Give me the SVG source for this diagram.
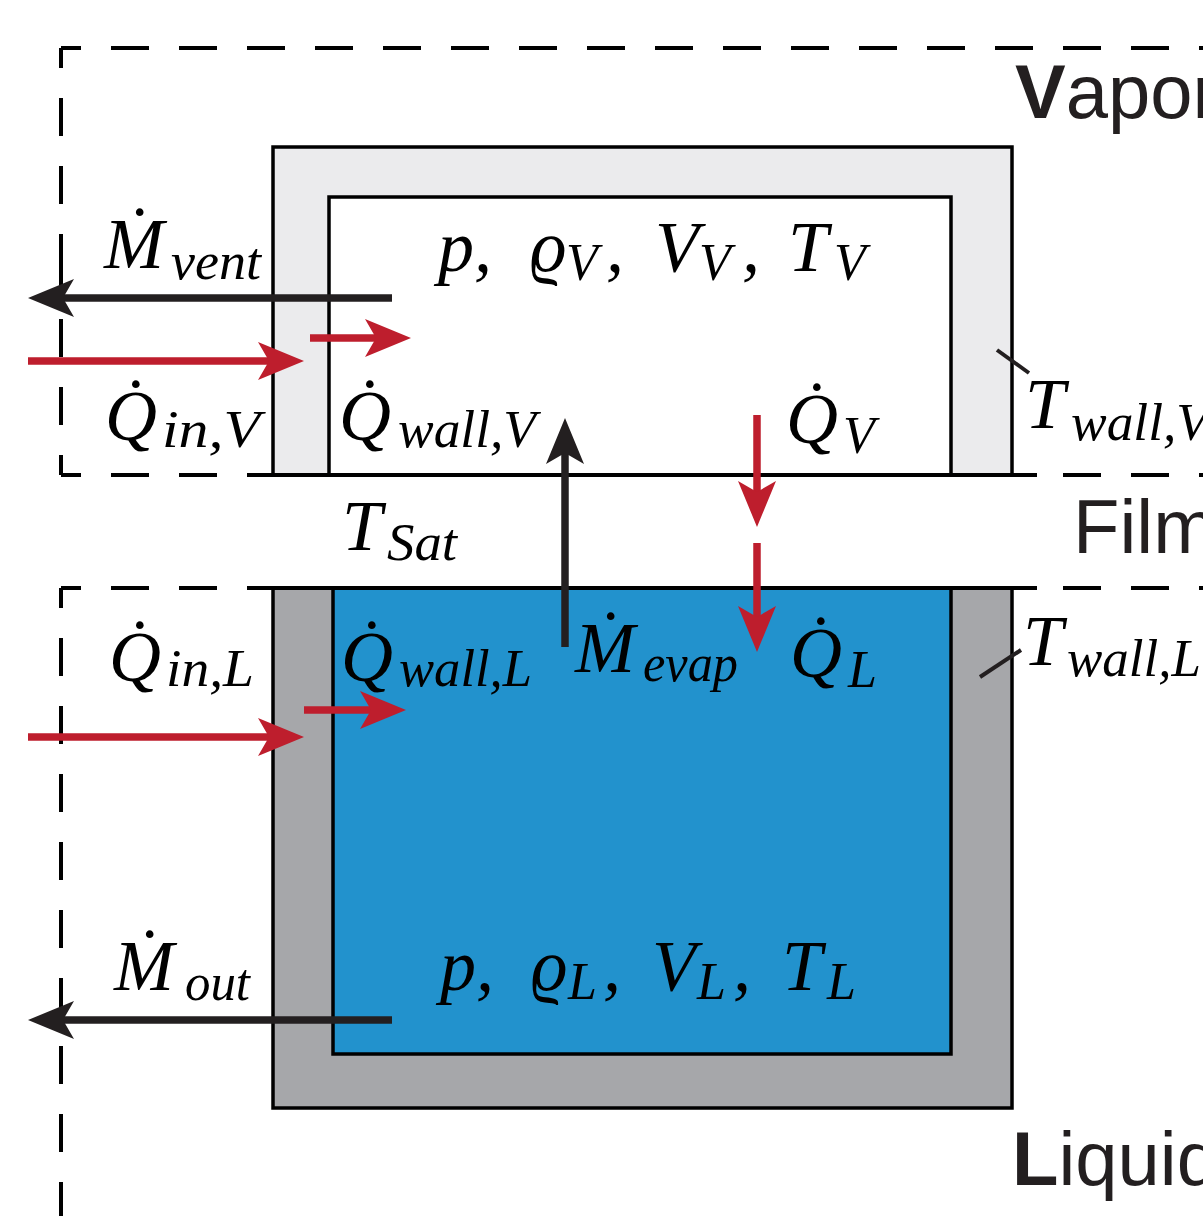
<svg xmlns="http://www.w3.org/2000/svg" width="1203" height="1216" viewBox="0 0 1203 1216">
<style>
.dash{fill:none;stroke:#000;stroke-width:4;stroke-dasharray:38 30;stroke-dashoffset:18}
.solid{fill:none;stroke:#000;stroke-width:4}
.wall{stroke:#000;stroke-width:3.5}
.m{font-family:"Liberation Serif","DejaVu Serif",serif;font-style:italic;font-size:72px;fill:#000}
.s{font-size:52px}
.sans{font-family:"Liberation Sans",Arial,sans-serif;font-size:76px;fill:#231f20}
.b{font-weight:bold}
.blk{fill:none;stroke:#231f20;stroke-width:7.5;marker-end:url(#hb)}
.red{fill:none;stroke:#be1e2d;stroke-width:7.5;marker-end:url(#hr)}
.lead{stroke:#231f20;stroke-width:4}
</style>
<defs>
<marker id="hb" markerUnits="userSpaceOnUse" viewBox="0 -20 47 40" markerWidth="47" markerHeight="40" refX="11" refY="0" orient="auto"><path d="M46,0 L0,-19 L11,0 L0,19 Z" fill="#231f20"/></marker>
<marker id="hr" markerUnits="userSpaceOnUse" viewBox="0 -20 47 40" markerWidth="47" markerHeight="40" refX="11" refY="0" orient="auto"><path d="M46,0 L0,-19 L11,0 L0,19 Z" fill="#be1e2d"/></marker>
</defs>
<rect width="1203" height="1216" fill="#fff"/>

<g id="vapor-region">
<path class="dash" d="M61,48 H1203"/>
<path class="dash" d="M61,48 V262"/>
<path class="dash" d="M61,475 V262"/>
<path class="dash" d="M61,475 H1203"/>
<text class="sans" x="1015" y="118"><tspan class="b">V</tspan>apor</text>
</g>

<g id="liquid-region">
<path class="dash" d="M61,588 H1203"/>
<path class="dash" d="M61,588 V1216"/>
<text class="sans" x="1012" y="1185"><tspan class="b">L</tspan>iquid</text>
</g>

<g id="vapor-tank">
<rect class="wall" x="273" y="147" width="739" height="328" fill="#ebebed"/>
<rect class="wall" x="329" y="197" width="622" height="278" fill="#fff"/>
</g>

<g id="liquid-tank">
<rect class="wall" x="273" y="588" width="739" height="520" fill="#a6a7aa"/>
<rect class="wall" x="333" y="588" width="618" height="466" fill="#2292cd"/>
</g>

<g id="film-region">
<path class="solid" d="M247,475 H1037"/>
<path class="solid" d="M247,588 H1037"/>
<text class="sans" x="1073" y="553">Film</text>
</g>

<g id="connectors">
<path class="blk" d="M392,298 H63"/>
<path class="blk" d="M392,1020 H63"/>
<path class="red" d="M28,361 H269"/>
<path class="red" d="M310,338 H376"/>
<path class="red" d="M28,737 H269"/>
<path class="red" d="M304,710 H371"/>
<path class="blk" d="M565,647 V453"/>
<path class="red" d="M757,415 V492"/>
<path class="red" d="M757,543 V617"/>
<path class="lead" d="M997,350 L1029,373"/>
<path class="lead" d="M980,677 L1021,650"/>
</g>

<g id="labels">
<text class="m" x="104" y="268">Ṁ<tspan class="s" x="171" y="279" textLength="90" lengthAdjust="spacingAndGlyphs">vent</tspan></text>
<text class="m" x="105" y="440">Q̇<tspan class="s" x="162" y="447" textLength="98" lengthAdjust="spacingAndGlyphs">in,V</tspan></text>
<text class="m" x="339" y="440">Q̇<tspan class="s" x="398" y="447" textLength="138" lengthAdjust="spacingAndGlyphs">wall,V</tspan></text>
<text class="m" x="438" y="271">p,<tspan x="530">ϱ</tspan><tspan class="s" x="566" y="280">V</tspan><tspan x="606" y="271">,</tspan><tspan x="655">V</tspan><tspan class="s" x="699" y="280">V</tspan><tspan x="742" y="271">,</tspan><tspan x="788">T</tspan><tspan class="s" x="834" y="280">V</tspan></text>
<text class="m" x="786" y="443">Q̇<tspan class="s" x="843" y="453">V</tspan></text>
<text class="m" x="1025" y="428">T<tspan class="s" x="1071" y="440" textLength="138" lengthAdjust="spacingAndGlyphs">wall,V</tspan></text>
<text class="m" x="342" y="550">T<tspan class="s" x="387" y="560" textLength="70" lengthAdjust="spacingAndGlyphs">Sat</tspan></text>
<text class="m" x="109" y="681">Q̇<tspan class="s" x="166" y="686" textLength="88" lengthAdjust="spacingAndGlyphs">in,L</tspan></text>
<text class="m" x="341" y="681">Q̇<tspan class="s" x="399" y="686" textLength="133" lengthAdjust="spacingAndGlyphs">wall,L</tspan></text>
<text class="m" x="575" y="672">Ṁ<tspan class="s" x="643" y="681" textLength="95" lengthAdjust="spacingAndGlyphs">evap</tspan></text>
<text class="m" x="790" y="677">Q̇<tspan class="s" x="848" y="687">L</tspan></text>
<text class="m" x="1023" y="665">T<tspan class="s" x="1067" y="676" textLength="134" lengthAdjust="spacingAndGlyphs">wall,L</tspan></text>
<text class="m" x="114" y="990">Ṁ<tspan class="s" x="185" y="1000" textLength="65" lengthAdjust="spacingAndGlyphs">out</tspan></text>
<text class="m" x="440" y="990">p,<tspan x="531">ϱ</tspan><tspan class="s" x="568" y="999">L</tspan><tspan x="603" y="990">,</tspan><tspan x="652">V</tspan><tspan class="s" x="697" y="999">L</tspan><tspan x="733" y="990">,</tspan><tspan x="782">T</tspan><tspan class="s" x="827" y="999">L</tspan></text>
</g>
</svg>
